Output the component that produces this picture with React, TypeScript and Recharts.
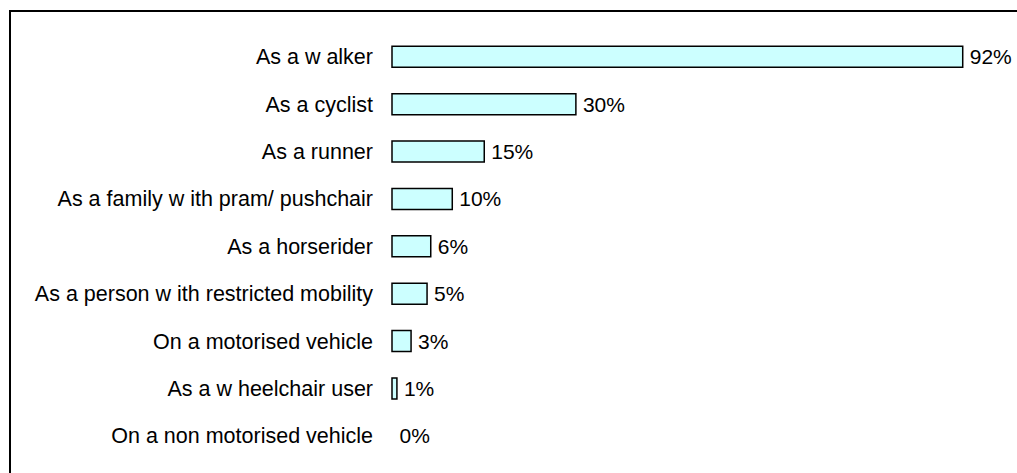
import React from "react";
import { BarChart, Bar, XAxis, YAxis, LabelList, Rectangle } from "recharts";

const categories = [
  "As a w alker",
  "As a cyclist",
  "As a runner",
  "As a family w ith pram/ pushchair",
  "As a horserider",
  "As a person w ith restricted mobility",
  "On a motorised vehicle",
  "As a w heelchair user",
  "On a non motorised vehicle",
];
const values = [92.8, 29.9, 15.0, 9.8, 6.3, 5.7, 3.1, 0.8, 0];
const valueLabels = ["92%", "30%", "15%", "10%", "6%", "5%", "3%", "1%", "0%"];

const data = categories.map((name, i) => ({ name, value: values[i], label: valueLabels[i] }));

const FONT = "'Liberation Sans', Arial, sans-serif";

const BarShape = (props: any) => {
  if (!props.value) return <g />;
  return <Rectangle {...props} />;
};

export default function App() {
  return (
    <div
      style={{
        position: "fixed",
        left: 0,
        top: 0,
        width: 1017,
        height: 473,
        overflow: "hidden",
        fontFamily: FONT,
        background: "#fff",
      }}
    >
      <div
        style={{
          position: "absolute",
          left: 9,
          top: 10,
          width: 1008,
          height: 463,
          boxSizing: "border-box",
          borderLeft: "2px solid #000",
          borderTop: "2px solid #000",
        }}
      />
      <div style={{ position: "absolute", left: 8, top: 8 }}>
        <BarChart
          width={1009}
          height={465}
          data={data}
          layout="vertical"
          margin={{ top: 25, right: 10, bottom: 13.5, left: 0 }}
          barCategoryGap="28%"
          style={{ overflow: "visible" }}
        >
          <XAxis type="number" hide domain={[0, 100]} />
          <YAxis
            type="category"
            dataKey="name"
            width={384}
            axisLine={false}
            tickLine={false}
            tickSize={0}
            tickMargin={19}
            interval={0}
            tick={{ fill: "#000", fontSize: 21.5, fontFamily: FONT }}
          />
          <Bar
            dataKey="value"
            fill="#CCFFFF"
            stroke="#000"
            strokeWidth={1.5}
            minPointSize={(v: number) => (v === 0 ? 0.5 : 0)}
            shape={BarShape}
            isAnimationActive={false}
          >
            <LabelList
              dataKey="label"
              position="right"
              offset={7}
              fill="#000"
              style={{ fontSize: 21, fontFamily: FONT }}
            />
          </Bar>
        </BarChart>
      </div>
    </div>
  );
}
